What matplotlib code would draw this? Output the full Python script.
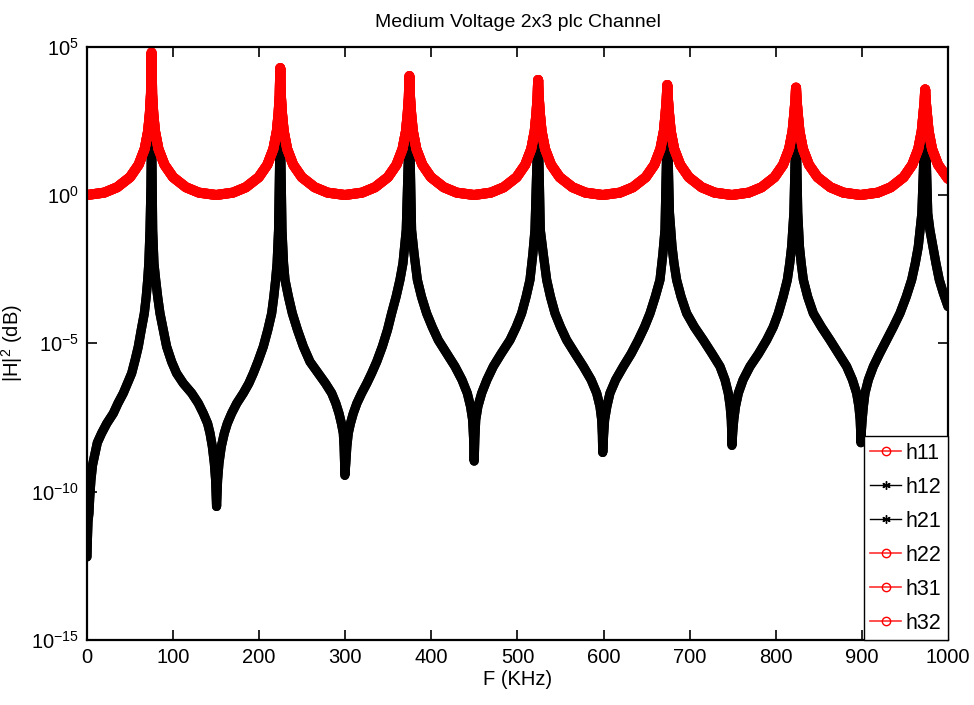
import numpy as np
import matplotlib
matplotlib.use("Agg")
import matplotlib.pyplot as plt
from matplotlib import font_manager
from matplotlib.lines import Line2D

# schrift: schmale Helvetica-Optik wenn moeglich
names = {f.name for f in font_manager.fontManager.ttflist}
fam = "Liberation Sans Narrow" if "Liberation Sans Narrow" in names else "Liberation Sans"
plt.rcParams["font.family"] = [fam, "DejaVu Sans"]
plt.rcParams["mathtext.fontset"] = "custom"
plt.rcParams["mathtext.rm"] = fam
plt.rcParams["mathtext.it"] = fam + ":italic"
plt.rcParams["mathtext.bf"] = fam + ":bold"

red_freq = [
    0, 20, 35, 50, 60, 67, 71, 73, 74.3, 75, 75.7, 77, 79, 83, 90, 100, 115, 130,
    150, 169.5, 184.5, 199.5, 209.5, 216.5, 220.5, 222.5, 223.8, 224.5, 225.2, 226.5, 228.5, 232.5, 239.5, 249.5, 264.5, 279.5,
    299.5, 319.5, 334.5, 349.5, 359.5, 366.5, 370.5, 372.5, 373.8, 374.5, 375.2, 376.5, 378.5, 382.5, 389.5, 399.5, 414.5, 429.5,
    449.5, 469, 484, 499, 509, 516, 520, 522, 523.3, 524, 524.7, 526, 528, 532, 539, 549, 564, 579,
    599, 619, 634, 649, 659, 666, 670, 672, 673.3, 674, 674.7, 676, 678, 682, 689, 699, 714, 729,
    749, 768.5, 783.5, 798.5, 808.5, 815.5, 819.5, 821.5, 822.8, 823.5, 824.2, 825.5, 827.5, 831.5, 838.5, 848.5, 863.5, 878.5,
    898.5, 918.5, 933.5, 948.5, 958.5, 965.5, 969.5, 971.5, 972.8, 973.5, 974.2, 975.5, 977.5, 981.5, 988.5, 1000,
]
red_exp = [
    0.0, 0.08, 0.26, 0.6, 1.02, 1.55, 2.15, 2.75, 3.4, 4.8, 3.4, 2.75, 2.15, 1.55, 1.02, 0.6, 0.26, 0.08,
    0.0, 0.08, 0.26, 0.6, 1.02, 1.55, 2.15, 2.75, 3.35, 4.28, 3.35, 2.75, 2.15, 1.55, 1.02, 0.6, 0.26, 0.08,
    0.0, 0.08, 0.26, 0.6, 1.02, 1.55, 2.15, 2.75, 3.3, 4.01, 3.3, 2.75, 2.15, 1.55, 1.02, 0.6, 0.26, 0.08,
    0.0, 0.08, 0.26, 0.6, 1.02, 1.55, 2.15, 2.75, 3.3, 3.88, 3.3, 2.75, 2.15, 1.55, 1.02, 0.6, 0.26, 0.08,
    0.0, 0.08, 0.26, 0.6, 1.02, 1.55, 2.15, 2.75, 3.25, 3.71, 3.25, 2.75, 2.15, 1.55, 1.02, 0.6, 0.26, 0.08,
    0.0, 0.08, 0.26, 0.6, 1.02, 1.55, 2.15, 2.75, 3.2, 3.62, 3.2, 2.75, 2.15, 1.55, 1.02, 0.6, 0.26, 0.08,
    0.0, 0.08, 0.26, 0.6, 1.02, 1.55, 2.15, 2.75, 3.15, 3.56, 3.15, 2.75, 2.15, 1.55, 1.02, 0.55,
]

black_freq = [
    0, 0.5, 1.2, 2.3, 3.2, 4.6, 6.5, 9.3, 12, 17, 23, 30.6, 36, 42.2, 47, 51.9, 56, 59.6, 63, 66.6, 68.8, 70.5, 71.8, 73.2, 74.3,
    75,
    76.3, 77.8, 79.8, 82.1, 84.8, 88.7, 92.5, 98.3, 104.1, 111.9, 121.6, 129.3, 135.1, 140.1, 142.9, 145.6, 147.9, 149.4, 150.5,
    151.7, 153.3, 156, 159.5, 163, 168, 174, 181.6, 188, 193.2, 198.5, 204.8, 210, 214.5, 217, 219.1, 220.8, 222.5,
    224.5,
    226.5, 228.3, 230, 234, 238.5, 244.5, 251.3, 259, 268.7, 277, 284.2, 289, 292.7, 295.5, 297.7, 298.6, 299.2, 299.5,
    300.6, 301.8, 303.5, 306, 309.3, 313.5, 319, 325, 330.6, 336.5, 343, 349, 353.8, 359, 363.5, 367, 370.8,
    374.5,
    377, 380, 383.7, 388.5, 394.5, 401, 408, 418, 427.4, 435.5, 441.7, 445.5, 447.9, 449, 449.7,
    450.5, 451.5, 454, 458.4, 464.5, 471.9, 481, 491.3, 498.5, 504.8, 510, 514.5, 517.8, 520.3,
    524,
    526.5, 530, 533.9, 538.3, 543.6, 550, 557.1, 567, 576.5, 585.5, 592, 595.8, 597.8, 598.6, 599,
    600, 601.2, 603.8, 607.4, 614, 622.9, 632, 640.3, 647.5, 653.9, 660, 665.5, 668.8, 671.3,
    674,
    676.5, 679.5, 681.8, 684.8, 690, 696.5, 705.5, 715.8, 726, 735.2, 741, 744.8, 747, 748.3, 748.8, 749.1,
    750, 751.2, 753.2, 756.5, 762, 770, 780, 789.4, 797, 802.9, 808.5, 813.4, 816.2, 818.4, 821,
    823.5,
    825.5, 827.5, 829.5, 832, 837, 843.6, 853, 863, 873, 882.3, 889, 893.9, 896.5, 898, 898.6, 898.9,
    899.3, 900.3, 901.7, 903.6, 907.5, 913.3, 920.5, 928.7, 936.5, 944.2, 951.5, 957.8, 962, 965.5, 969.6,
    973.5,
    976.5, 979, 982.5, 986, 989.9, 994.5, 1000,
]
black_exp = [
    -12.2, -11.6, -11.0, -10.73, -10.2, -9.61, -9.1, -8.71, -8.35, -8.03, -7.7, -7.36, -7.02, -6.68, -6.35, -6.01, -5.55, -5.11, -4.55, -3.99, -3.43, -2.86, -2.3, -1.18, 0.3,
    2.5,
    -1.18, -2.3, -2.86, -3.43, -3.99, -4.55, -5.11, -5.62, -6.01, -6.35, -6.68, -7.02, -7.36, -7.7, -8.03, -8.48, -9.04, -9.61, -10.5,
    -9.61, -9.04, -8.48, -8.03, -7.7, -7.36, -7.02, -6.68, -6.35, -6.01, -5.62, -5.11, -4.55, -3.99, -3.43, -2.86, -2.3, -1.18,
    2.5,
    -1.18, -2.3, -2.86, -3.43, -3.99, -4.55, -5.11, -5.62, -6.01, -6.35, -6.68, -7.02, -7.36, -7.7, -8.03, -8.48, -9.04, -9.45,
    -9.04, -8.48, -8.03, -7.7, -7.36, -7.02, -6.68, -6.35, -6.01, -5.62, -5.11, -4.55, -3.99, -3.43, -2.86, -2.3, -1.18,
    2.5,
    -1.18, -2.0, -2.86, -3.43, -3.99, -4.45, -4.89, -5.35, -5.78, -6.23, -6.68, -7.13, -7.58, -8.2, -8.97,
    -8.2, -7.58, -7.13, -6.68, -6.23, -5.78, -5.35, -4.89, -4.45, -3.99, -3.43, -2.86, -2.0, -1.18,
    2.5,
    -1.18, -2.0, -2.86, -3.43, -3.99, -4.45, -4.89, -5.35, -5.78, -6.23, -6.68, -7.13, -7.58, -8.1, -8.68,
    -8.1, -7.58, -7.13, -6.68, -6.23, -5.78, -5.35, -4.89, -4.45, -3.99, -3.43, -2.86, -2.0, -1.18,
    2.5,
    -0.6, -1.74, -2.3, -2.86, -3.43, -3.99, -4.45, -4.89, -5.35, -5.78, -6.23, -6.68, -7.13, -7.58, -8.0, -8.44,
    -8.0, -7.58, -7.13, -6.68, -6.23, -5.78, -5.35, -4.89, -4.45, -3.99, -3.43, -2.86, -2.3, -1.74, -0.6,
    2.5,
    -0.6, -1.74, -2.3, -2.86, -3.43, -3.99, -4.45, -4.89, -5.35, -5.78, -6.23, -6.68, -7.13, -7.58, -8.0, -8.35,
    -8.0, -7.58, -7.13, -6.68, -6.23, -5.78, -5.35, -4.89, -4.45, -3.99, -3.43, -2.86, -2.3, -1.74, -0.62,
    2.5,
    -0.62, -1.18, -1.74, -2.3, -2.86, -3.3, -3.76,
]

channels = ["h11", "h12", "h21", "h22", "h31", "h32"]
channel_kind = ["red", "black", "black", "red", "red", "red"]

red_vals = 10.0 ** np.array(red_exp)
black_vals = 10.0 ** np.array(black_exp)

fig = plt.figure(figsize=(9.74, 7.05), dpi=100)
ax = fig.add_axes([0.0893, 0.0922, 0.8840, 0.8416])

for name, kind in zip(channels, channel_kind):
    if kind == "red":
        ax.plot(red_freq, red_vals, color="#ff0000", lw=7.2,
                solid_capstyle="round", solid_joinstyle="round")
    else:
        ax.plot(black_freq, black_vals, color="black", lw=6.6,
                solid_capstyle="round", solid_joinstyle="round")

ax.set_yscale("log")
ax.set_xlim(0, 1000)
ax.set_ylim(1e-15, 1e5)
ax.set_xticks(np.arange(0, 1001, 100))
ax.set_yticks([1e-15, 1e-10, 1e-5, 1e0, 1e5])
ax.yaxis.set_minor_locator(matplotlib.ticker.NullLocator())
ax.tick_params(direction="in", length=7, width=1.2, top=True, right=True,
               labelsize=14.5, pad=6)
for sp in ax.spines.values():
    sp.set_linewidth(1.6)

ax.set_title("Medium Voltage 2x3 plc Channel", fontsize=14, pad=14)
ax.set_xlabel("F (KHz)", fontsize=14.5, labelpad=2)
ax.set_ylabel("|H|$^2$ (dB)", fontsize=14.5)
ax.yaxis.set_label_coords(-0.072, 0.5)

# Legende mit duennen Linien wie im Original
handles = []
for name, kind in zip(channels, channel_kind):
    if kind == "red":
        handles.append(Line2D([], [], color="#ff3030", lw=1.2, marker="o",
                              markerfacecolor="none", markeredgecolor="#ff0000",
                              markersize=6, markeredgewidth=1.0))
    else:
        handles.append(Line2D([], [], color="black", lw=1.0, marker=(6, 2, 0),
                              markersize=6, markeredgewidth=1.0))
leg = ax.legend(handles, channels, loc="lower right", bbox_to_anchor=(1.0, 0.0),
                borderaxespad=0.0, fontsize=15.5, fancybox=False, framealpha=1,
                edgecolor="black", handlelength=1.45, handletextpad=0.2,
                labelspacing=0.6, borderpad=0.3)
leg.get_frame().set_linewidth(1.0)

fig.savefig("out.png", dpi=100)
